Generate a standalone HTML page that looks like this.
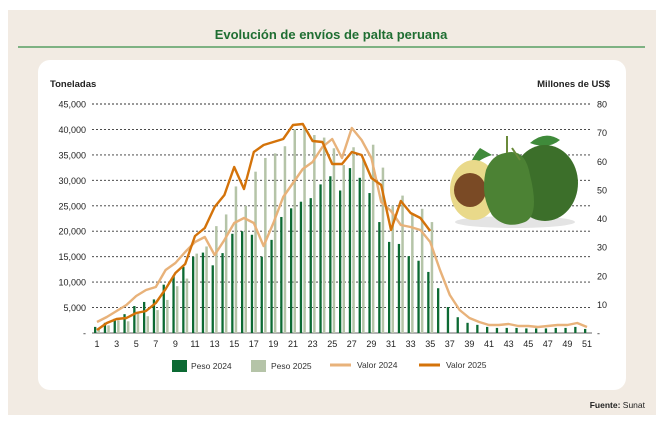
<!DOCTYPE html>
<html><head><meta charset="utf-8">
<style>
html,body{margin:0;padding:0;background:#fff;}
svg{display:block;font-family:"Liberation Sans",sans-serif;}
</style></head>
<body>
<svg id="s" width="663" height="425" viewBox="0 0 663 425" xmlns="http://www.w3.org/2000/svg">
<rect x="8" y="10" width="648" height="405" fill="#f2ebe3"/>
<text x="331" y="39" text-anchor="middle" font-size="13" font-weight="bold" fill="#1f6e32">Evolución de envíos de palta peruana</text>
<line x1="18" y1="47" x2="645" y2="47" stroke="#3a8f4a" stroke-width="1.2"/>
<rect x="38" y="60" width="588" height="330" rx="12" fill="#fff"/>
<text x="50" y="87" font-size="9.5" font-weight="bold" fill="#222">Toneladas</text>
<text x="610" y="87" font-size="9.5" font-weight="bold" fill="#222" text-anchor="end">Millones de US$</text>
<g id="grid"></g>
<g id="bars"></g>
<g id="lines"></g>
<g id="avo">
 <ellipse cx="515" cy="222" rx="60" ry="6" fill="#e4e4e4"/>
 <path d="M480 148 Q470 160 468 172 Q476 160 492 155 Z" fill="#3f8a3a"/>
 <path d="M530 143 Q545 130 560 140 Q548 150 530 143 Z" fill="#3f8a3a"/>
 <ellipse cx="474" cy="190" rx="24" ry="30" fill="#e9d98a"/>
 <ellipse cx="470" cy="190" rx="16" ry="17" fill="#7a4a25"/>
 <ellipse cx="545" cy="183" rx="33" ry="38" fill="#3c6f2a"/>
 <path d="M505 153 Q525 147 530 175 Q540 215 525 222 Q505 230 492 215 Q480 195 486 170 Q492 155 505 153 Z" fill="#4c8234"/>
 <line x1="507" y1="153" x2="507" y2="136" stroke="#6a8a3a" stroke-width="2"/>
 <line x1="520" y1="160" x2="512" y2="148" stroke="#6a8a3a" stroke-width="2"/>
</g>
<g id="xl" font-size="9" fill="#222"></g>
<g font-size="8.5" fill="#333">
 <rect x="172" y="360" width="15" height="12" fill="#0c6a33"/>
 <text x="191" y="369">Peso 2024</text>
 <rect x="251" y="360" width="15" height="12" fill="#b5c4a8"/>
 <text x="271" y="369">Peso 2025</text>
 <line x1="330" y1="365" x2="351" y2="365" stroke="#e8b27a" stroke-width="3"/>
 <text x="357" y="368">Valor 2024</text>
 <line x1="419" y1="365" x2="440" y2="365" stroke="#d4730a" stroke-width="3"/>
 <text x="446" y="368">Valor 2025</text>
</g>
<text x="645" y="408" font-size="8.5" fill="#222" text-anchor="end"><tspan font-weight="bold">Fuente:</tspan> Sunat</text>
</svg>
<script>
var NS="http://www.w3.org/2000/svg";
function el(p,t,a,txt){var e=document.createElementNS(NS,t);for(var k in a)e.setAttribute(k,a[k]);if(txt!==undefined)e.textContent=txt;document.getElementById(p).appendChild(e);return e;}
var y0=333,y45=104;
function yk(v){return y0-(v/45)*(y0-y45);}
function x(w){return 97+9.8*(w-1);}
var lab=["-","5,000","10,000","15,000","20,000","25,000","30,000","35,000","40,000","45,000"];
var rl=["-","10","20","30","40","50","60","70","80"];
for(var i=0;i<=9;i++){var y=yk(i*5);
 if(i>0)el("grid","line",{x1:92,x2:592,y1:y,y2:y,stroke:"#333","stroke-width":0.9,"stroke-dasharray":"2,2"});
 el("grid","text",{x:86,y:y+3.5,"font-size":9,"text-anchor":"end",fill:"#222"},lab[i]);}
el("grid","line",{x1:92,x2:592,y1:333,y2:333,stroke:"#333","stroke-width":0.8});
for(var j=0;j<=8;j++){var yy=333-j*(229/8);el("grid","text",{x:597,y:yy+3.5,"font-size":9,fill:"#222"},rl[j]);}
var d24=[1.2,2,2.8,3.7,5.3,6.1,6.6,9.5,11.3,13,15,15.8,13.3,15.7,19.5,20,19.3,15,18.3,22.8,24.5,25.8,26.5,29.2,30.8,28,32.4,30.5,27.5,21.8,17.9,17.5,15.1,14.2,12,8.8,5.1,3.1,2,1.6,1.2,1,1,1,0.9,0.9,0.9,1,1,1.2,0.8];
var d25=[0.8,1.5,2.5,2.3,4.2,3.3,4.5,6.5,9.2,10.7,15.6,17,21,23.3,28.8,25,31.7,34.4,35.3,36.7,40,40.5,38.9,38.4,36.3,33,36.5,34,37,32.5,25,27,23.5,24.4,21.8];
for(var w=1;w<=51;w++){
 var h=d24[w-1];el("bars","rect",{x:x(w)-3,y:yk(h),width:2.3,height:333-yk(h),fill:"#0c6a33"});
 if(w<=35){h=d25[w-1];el("bars","rect",{x:x(w)+0.5,y:yk(h),width:2.5,height:333-yk(h),fill:"#b5c4a8"});}
 if(w%2==1)el("xl","text",{x:x(w),y:347,"text-anchor":"middle"},String(w));
}
var v24=[322,317,311,305,296,290,287,270,263,252,242,237,255,240,223,218,223,246,223,197,183,169,162,147,139,158,128,140,158,202,211,225,227,230,242,270,295,310,318,322,325,325,324,326,326,327,326,325,325,323,327];
var v25=[330,323,319,318,313,311,303,289,273,264,236,228,207,195,167,189,152,145,142,139,125,124,141,142,164,164,152,155,178,185,230,201,213,218,231];
function pts(a){return a.map(function(y,i){return x(i+1)+","+y;}).join(" ");}
el("lines","polyline",{points:pts(v24),fill:"none",stroke:"#e8b27a","stroke-width":2.4,"stroke-linejoin":"round"});
el("lines","polyline",{points:pts(v25),fill:"none",stroke:"#d4730a","stroke-width":2.4,"stroke-linejoin":"round"});
</script>
</body></html>
